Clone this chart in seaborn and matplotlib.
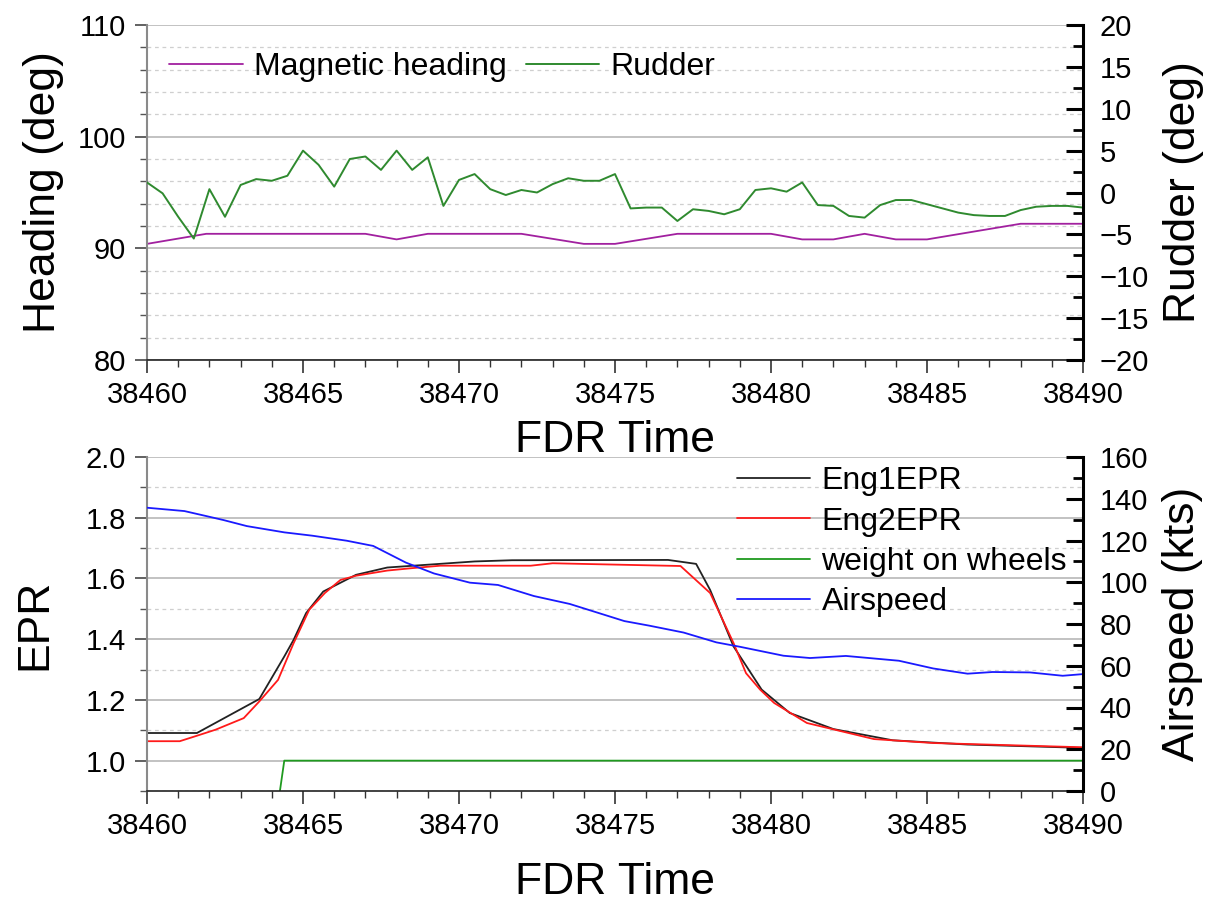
import seaborn as sns
import matplotlib.pyplot as plt
from matplotlib.ticker import MultipleLocator

sns.set_style('ticks')
plt.rcParams['font.family'] = ['Liberation Sans', 'DejaVu Sans']
plt.rcParams['text.color'] = 'black'
plt.rcParams['axes.labelcolor'] = 'black'
plt.rcParams['xtick.labelcolor'] = 'black'
plt.rcParams['ytick.labelcolor'] = 'black'

# ---- top panel data ----
heading_t = [38460, 38461.9, 38467, 38468, 38469, 38472, 38474, 38475, 38477,
             38480, 38481, 38482, 38483, 38484, 38485, 38488, 38490]
heading = [90.4, 91.3, 91.3, 90.8, 91.3, 91.3, 90.4, 90.4, 91.3,
           91.3, 90.8, 90.8, 91.3, 90.8, 90.8, 92.2, 92.2]

rudder_t = [38460 + 0.5 * i for i in range(61)]
rudder = [1.2, -0.1, -2.9, -5.5, 0.4, -2.9, 0.9, 1.6, 1.4, 2.0,
          5.0, 3.3, 0.7, 4.0, 4.3, 2.7, 5.0, 2.7, 4.2, -1.6,
          1.5, 2.2, 0.4, -0.3, 0.3, 0.0, 1.0, 1.7, 1.4, 1.4,
          2.2, -1.9, -1.8, -1.8, -3.4, -2.0, -2.2, -2.6, -2.0, 0.3,
          0.5, 0.1, 1.2, -1.5, -1.6, -2.8, -3.0, -1.5, -0.9, -0.9,
          -1.4, -1.9, -2.4, -2.7, -2.8, -2.8, -2.1, -1.7, -1.6, -1.6,
          -1.8]

# ---- bottom panel data ----
eng1_t = [38460, 38461.6, 38463.6, 38464.4, 38464.7, 38465.1, 38465.65, 38466.7,
          38467.7, 38470.5, 38471.7, 38476.7, 38477.6, 38478.05, 38478.8,
          38479.7, 38480.6, 38482, 38483.9, 38486.3, 38490]
eng1 = [1.091, 1.091, 1.203, 1.343, 1.398, 1.486, 1.557, 1.612,
        1.636, 1.656, 1.660, 1.661, 1.648, 1.562, 1.376,
        1.234, 1.157, 1.104, 1.067, 1.053, 1.042]

eng2_t = [38460, 38461.05, 38461.6, 38462.2, 38463.1, 38463.6, 38464.2, 38464.7,
          38465.2, 38465.7, 38466.2, 38466.7, 38467.7, 38468.5, 38469.4,
          38472.3, 38473, 38477.1, 38478.05, 38478.8, 38479.2, 38479.65,
          38480.1, 38481.15, 38483.3, 38485.2, 38490]
eng2 = [1.064, 1.064, 1.082, 1.102, 1.14, 1.195, 1.266, 1.387,
        1.497, 1.552, 1.595, 1.609, 1.626, 1.634, 1.642,
        1.642, 1.65, 1.641, 1.552, 1.387, 1.288, 1.234,
        1.19, 1.124, 1.071, 1.058, 1.044]

wow_t = [38460, 38463.0, 38464.4, 38490]
wow = [0, 0, 1, 1]

airspeed_t = [38460, 38461.2, 38461.9, 38462.45, 38463.2, 38464.4, 38465.3, 38466.4,
              38467.25, 38468.3, 38469.2, 38470.35, 38471.25, 38472.4, 38473.55,
              38475.3, 38476.1, 38477.2, 38478.25, 38479, 38480.4, 38481.25,
              38482.4, 38484.1, 38485.2, 38486.3, 38487.1, 38488.3, 38489.35, 38490]
airspeed = [135.7, 134.1, 131.7, 129.8, 126.9, 123.9, 122.3, 119.9,
            117.4, 109.4, 104.2, 99.8, 98.7, 93.4, 89.6,
            81.4, 79.2, 75.9, 71.2, 69.1, 64.8, 63.7,
            64.7, 62.4, 58.7, 56.2, 57.0, 56.8, 55.2, 56.0]

TICK_FS = 21
LABEL_FS = 32
LEG_FS = 23
W, H = 1213, 907

fig = plt.figure(figsize=(W / 100, H / 100), dpi=100)


def px_axes(l, t, r, b):
    return fig.add_axes([l / W, 1 - b / H, (r - l) / W, (b - t) / H])


def style_axes(ax, ax2):
    ax.set_xlim(38460, 38490)
    ax.xaxis.set_major_locator(MultipleLocator(5))
    ax.xaxis.set_minor_locator(MultipleLocator(1))
    ax.grid(which='major', axis='y', color='#bdbdbd', lw=1.3, ls='-')
    ax.grid(which='minor', axis='y', color='#cfcfcf', lw=0.9, ls=(0, (3, 3)))
    ax.grid(False, axis='x', which='both')
    ax.set_axisbelow(True)
    for a in (ax, ax2):
        a.spines['top'].set_visible(False)
    ax.spines['right'].set_visible(False)
    ax.spines['left'].set_color('#8a8a8a')
    ax.spines['left'].set_linewidth(1.5)
    ax.spines['bottom'].set_color('#222222')
    ax.spines['bottom'].set_linewidth(1.2)
    ax2.spines['left'].set_visible(False)
    ax2.spines['bottom'].set_visible(False)
    ax2.spines['right'].set_color('black')
    ax2.spines['right'].set_linewidth(2.2)
    ax.tick_params(axis='y', which='major', direction='out', length=9, width=1.3,
                   color='#555555', labelsize=TICK_FS, pad=6, labelcolor='black')
    ax.tick_params(axis='y', which='minor', direction='out', length=5, width=1.0,
                   color='#555555')
    ax.tick_params(axis='x', which='major', direction='out', length=9, width=1.2,
                   color='#333333', labelsize=TICK_FS, pad=6, labelcolor='black')
    ax.tick_params(axis='x', which='minor', direction='out', length=5, width=1.0,
                   color='#333333')
    ax2.tick_params(axis='y', which='major', direction='in', length=12, width=2.2,
                    color='black', labelsize=TICK_FS, pad=12, labelcolor='black')
    ax2.tick_params(axis='y', which='minor', direction='in', length=7, width=2.0,
                    color='black')
    ax.set_xlabel('FDR Time', fontsize=LABEL_FS, labelpad=8)


# ---------------- top panel ----------------
ax1 = px_axes(147, 25, 1083, 360)
ax1r = ax1.twinx()
sns.lineplot(x=heading_t, y=heading, ax=ax1, color='#a1209f', lw=1.3,
             label='Magnetic heading', legend=False)
sns.lineplot(x=rudder_t, y=rudder, ax=ax1r, color='#2f8a2f', lw=1.4,
             label='Rudder', legend=False)
ax1.set_ylim(80, 110)
ax1.yaxis.set_major_locator(MultipleLocator(10))
ax1.yaxis.set_minor_locator(MultipleLocator(2))
ax1r.set_ylim(-20, 20)
ax1r.yaxis.set_major_locator(MultipleLocator(5))
ax1r.yaxis.set_minor_locator(MultipleLocator(2.5))
style_axes(ax1, ax1r)
ax1.set_ylabel('Heading (deg)', fontsize=LABEL_FS, labelpad=10)
ax1r.set_ylabel('Rudder (deg)', fontsize=LABEL_FS, labelpad=10)

h1, l1 = ax1.get_legend_handles_labels()
h2, l2 = ax1r.get_legend_handles_labels()
ax1r.legend(h1 + h2, l1 + l2, loc='upper left', bbox_to_anchor=(0.0, 0.985),
            ncol=2, frameon=False, fontsize=LEG_FS, handlelength=2.3,
            handletextpad=0.35, columnspacing=0.6, borderaxespad=0.3)

# ---------------- bottom panel ----------------
ax2 = px_axes(147, 457, 1083, 791)
ax2r = ax2.twinx()
sns.lineplot(x=eng1_t, y=eng1, ax=ax2, color='#222222', lw=1.3,
             label='Eng1EPR', legend=False)
sns.lineplot(x=eng2_t, y=eng2, ax=ax2, color='#ff1a1a', lw=1.3,
             label='Eng2EPR', legend=False)
sns.lineplot(x=wow_t, y=wow, ax=ax2, color='#1f9a1f', lw=1.3,
             label='weight on wheels', legend=False)
sns.lineplot(x=airspeed_t, y=airspeed, ax=ax2r, color='#1a1aff', lw=1.3,
             label='Airspeed', legend=False)
ax2.set_ylim(0.9, 2.0)
ax2.yaxis.set_major_locator(MultipleLocator(0.2))
ax2.yaxis.set_minor_locator(MultipleLocator(0.1))
ax2.set_yticks([1.0, 1.2, 1.4, 1.6, 1.8, 2.0])
ax2.set_yticklabels(['1.0', '1.2', '1.4', '1.6', '1.8', '2.0'])
ax2r.set_ylim(0, 160)
ax2r.yaxis.set_major_locator(MultipleLocator(20))
ax2r.yaxis.set_minor_locator(MultipleLocator(10))
style_axes(ax2, ax2r)
ax2.set_ylabel('EPR', fontsize=LABEL_FS, labelpad=22)
ax2r.set_ylabel('Airspeed (kts)', fontsize=LABEL_FS, labelpad=10)
ax2.set_xlabel('FDR Time', fontsize=LABEL_FS, labelpad=16)

h1, l1 = ax2.get_legend_handles_labels()
h2, l2 = ax2r.get_legend_handles_labels()
ax2r.legend(h1 + h2, l1 + l2, loc='upper right', bbox_to_anchor=(1.0, 1.02),
            frameon=False, fontsize=LEG_FS, handlelength=2.3,
            handletextpad=0.35, labelspacing=0.32, borderaxespad=0.1)

fig.savefig('out.png', dpi=100)
